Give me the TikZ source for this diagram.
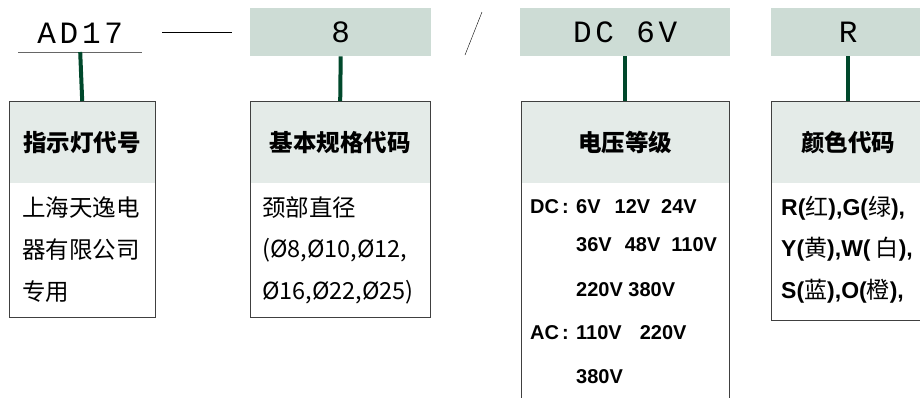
\documentclass[tikz,border=0pt]{standalone}
\usepackage{fontspec}
\setmainfont{Liberation Sans}
\setmonofont{Liberation Mono}
\newfontfamily\cjk{Noto Sans CJK SC}
\newcommand{\zh}[1]{{\cjk\mdseries #1}}
\newcommand{\supply}[1]{#1\hspace{3pt}:}
\definecolor{tagfill}{HTML}{CDDCD5}
\definecolor{headfill}{HTML}{E4EBE8}
\definecolor{linkgreen}{HTML}{00482B}
\tikzset{
  tag/.style={fill=tagfill,anchor=north west,inner sep=0pt,minimum height=48pt,
    font=\ttfamily\fontsize{31}{31}\selectfont\addfontfeature{LetterSpace=12}},
  cardhead/.style={fill=headfill,anchor=north west,inner sep=0pt,minimum height=82pt,
    font=\cjk\bfseries\fontsize{23.5}{24}\selectfont},
  card/.style={draw=black!75,line width=1pt,anchor=north west,inner sep=0pt},
  textrow/.style={anchor=west,inner sep=0pt,font=\cjk\fontsize{23.5}{24}\selectfont},
  volts/.style={anchor=west,inner sep=0pt,font=\bfseries\fontsize{20}{20}\selectfont},
  colours/.style={anchor=west,inner sep=0pt,font=\bfseries\fontsize{23}{23}\selectfont},
  link/.style={draw=linkgreen,line width=4pt}
}
\begin{document}
\begin{tikzpicture}[x=1pt,y=-1pt]
  \useasboundingbox (0,0) rectangle (920,397);
  \clip (0,0) rectangle (920,397);
  % ordering code
  \node[inner sep=0pt,minimum width=124pt,minimum height=38pt,anchor=south west,
    font=\ttfamily\fontsize{31}{31}\selectfont\addfontfeature{LetterSpace=12}] (model) at (18,52) {AD17};
  \draw[black!60] (model.south west) -- (model.south east);
  \draw (162,32) -- (232,32);
  \node[tag,minimum width=181pt] (size) at (250,8) {8};
  \draw (482,12) -- (465,55);
  \node[tag,minimum width=210pt] (volt) at (520,8) {DC 6V};
  \node[tag,minimum width=154pt] (colour) at (771,8) {R};
  % cards
  \node[cardhead,minimum width=146pt] (modelhead) at (9,101) {指示灯代号};
  \node[card,minimum width=146pt,minimum height=216pt] (modelcard) at (9,101) {};
  \foreach \y/\t [count=\i] in {208/上海天逸电,250/器有限公司,292/专用}
    \node[textrow] (model-\i) at (22,\y) {\t};

  \node[cardhead,minimum width=180pt] (sizehead) at (250,101) {基本规格代码};
  \node[card,minimum width=180pt,minimum height=216pt] (sizecard) at (250,101) {};
  \foreach \y/\t [count=\i] in {208/颈部直径,250/{(Ø8,Ø10,Ø12,},292/{Ø16,Ø22,Ø25)}}
    \node[textrow] (size-\i) at (262,\y) {\t};

  \node[cardhead,minimum width=208pt] (volthead) at (521,101) {电压等级};
  \node[card,minimum width=208pt,minimum height=320pt] (voltcard) at (521,101) {};
  \node[volts] (dc) at (530,207) {\supply{DC}};
  \node[volts] (ac) at (530,333) {\supply{AC}};
  \foreach \y/\t [count=\i] in {207/{6V\hspace{14pt}12V\hspace{11pt}24V},
      245/{36V\hspace{13pt}48V\hspace{11pt}110V},
      290/{220V 380V},333/{110V\hspace{18pt}220V},377/380V}
    \node[volts] (volt-\i) at (576,\y) {\t};

  \node[cardhead,minimum width=154pt] (colourhead) at (771,101) {颜色代码};
  \node[card,minimum width=154pt,minimum height=219pt] (colourcard) at (771,101) {};
  \foreach \y/\t [count=\i] in {208/{R(\zh{红}),G(\zh{绿}),},249/{Y(\zh{黄}),W(\zh{ 白}),},
      291/{S(\zh{蓝}),O(\zh{橙}),}}
    \node[colours] (colour-\i) at (781,\y) {\t};
  % connectors
  \draw[link] (model.south) -- (modelhead.north);
  \draw[link] (size.south) -- (sizehead.north);
  \draw[link] (volt.south) -- (volthead.north);
  \draw[link] (colour.south) -- (colourhead.north);
\end{tikzpicture}
\end{document}
